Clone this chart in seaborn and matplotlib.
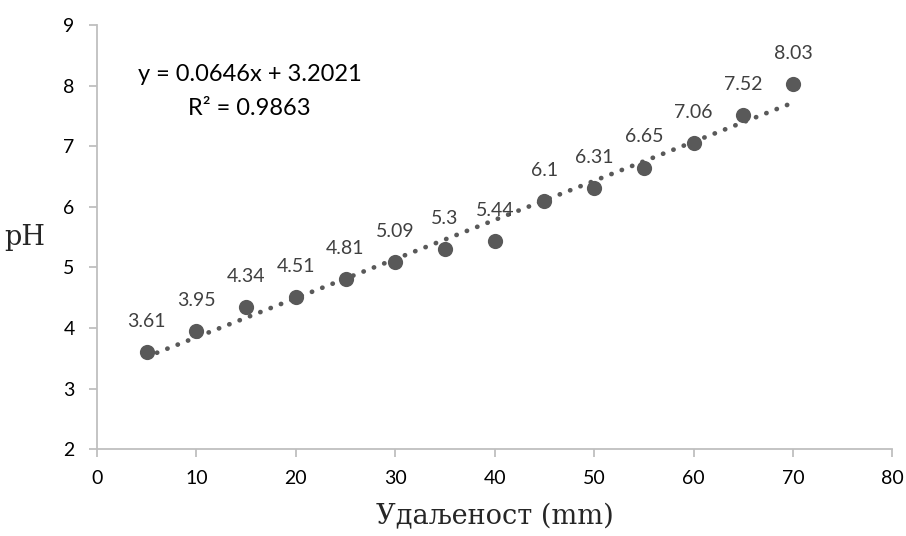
import numpy as np
import pandas as pd
import seaborn as sns
import matplotlib.pyplot as plt

# distance (mm) and measured pH
distance = [5, 10, 15, 20, 25, 30, 35, 40, 45, 50, 55, 60, 65, 70]
ph = [3.61, 3.95, 4.34, 4.51, 4.81, 5.09, 5.3, 5.44, 6.1, 6.31, 6.65, 7.06, 7.52, 8.03]
equation = "y = 0.0646x + 3.2021\nR² = 0.9863"

df = pd.DataFrame({"distance": distance, "ph": ph})

sns.set_style("white")
plt.rcParams["font.family"] = ["Lato", "DejaVu Sans"]

fig = plt.figure(figsize=(9.06, 5.36), dpi=100)
ax = fig.add_axes([0.107, 0.162, 0.878, 0.791])

grey = "#595959"
sns.regplot(data=df, x="distance", y="ph", scatter=False, ci=None, ax=ax,
            line_kws=dict(color=grey, lw=3.4, linestyle=(0, (0.05, 2.3)),
                          dash_capstyle="round"))
sns.scatterplot(data=df, x="distance", y="ph", ax=ax, color=grey, s=120,
                edgecolor=grey, linewidth=0, zorder=3)

for x, y in zip(distance, ph):
    ax.annotate(f"{y:g}", (x, y), xytext=(0, 22), textcoords="offset points",
                ha="center", va="center", fontsize=14, color="#404040")

ax.text(0.192, 0.844, equation, transform=ax.transAxes, ha="center", va="center",
        fontsize=17, color="black", linespacing=1.75)

ax.set_xlim(0, 80)
ax.set_ylim(2, 9)
ax.set_xticks(range(0, 81, 10))
ax.set_yticks(range(2, 10))

for side in ["top", "right"]:
    ax.spines[side].set_visible(False)
for side in ["left", "bottom"]:
    ax.spines[side].set_color("#bfbfbf")
    ax.spines[side].set_linewidth(1.3)
ax.tick_params(axis="both", length=6, width=1.3, color="#bfbfbf",
               labelsize=14, labelcolor="black", direction="out",
               bottom=True, left=True)
ax.tick_params(axis="x", pad=9)
ax.tick_params(axis="y", pad=10)

ax.set_xlabel("Удаљеност (mm)", fontsize=19.5, family="DejaVu Serif", labelpad=12)
ax.set_ylabel("pH", fontsize=19.5, family="DejaVu Serif", rotation=0, labelpad=28,
              va="center")

fig.savefig("out.png", dpi=100)
